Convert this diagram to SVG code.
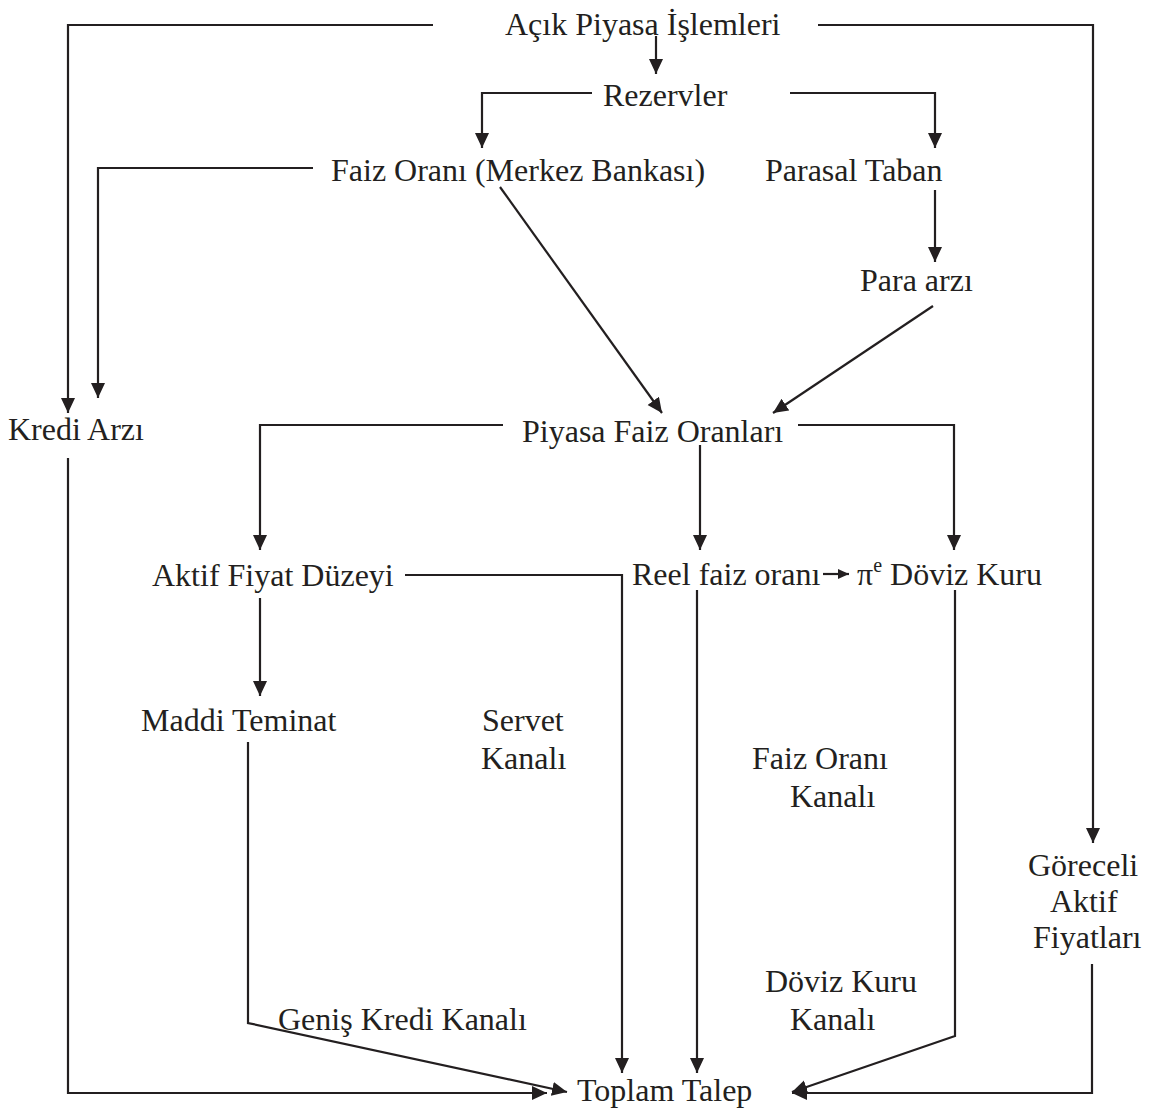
<svg xmlns="http://www.w3.org/2000/svg" width="1156" height="1108" viewBox="0 0 1156 1108">
<style>
text{font-family:"Liberation Serif","Times New Roman",serif;font-size:32px;fill:#231f20}
.c path{fill:none;stroke:#231f20;stroke-width:2.2}
</style>
<defs>
<marker id="a" markerUnits="userSpaceOnUse" markerWidth="16" markerHeight="16" refX="15" refY="7" orient="auto"><path d="M0,0 L15,7 L0,14 z" fill="#231f20"/></marker>
<marker id="s" markerUnits="userSpaceOnUse" markerWidth="12" markerHeight="12" refX="11" refY="5" orient="auto"><path d="M0,0 L11,5 L0,10 z" fill="#231f20"/></marker>
</defs>
<rect width="1156" height="1108" fill="#fff"/>
<g class="c" id="connectors">
<path d="M433,25 H68 V413" marker-end="url(#a)"/>
<path d="M818,25 H1093 V843" marker-end="url(#a)"/>
<path d="M656,36 V74" marker-end="url(#a)"/>
<path d="M592,93 H482 V148" marker-end="url(#a)"/>
<path d="M790,93 H935 V148" marker-end="url(#a)"/>
<path d="M313,168 H98 V398" marker-end="url(#a)"/>
<path d="M500,187 L662,413" marker-end="url(#a)"/>
<path d="M935,190 V262" marker-end="url(#a)"/>
<path d="M933,306 L773,413" marker-end="url(#a)"/>
<path d="M503,425 H260 V550" marker-end="url(#a)"/>
<path d="M798,425 H954 V550" marker-end="url(#a)"/>
<path d="M700,445 V550" marker-end="url(#a)"/>
<path d="M405,575 H622 V1073" marker-end="url(#a)"/>
<path d="M260,598 V696" marker-end="url(#a)"/>
<path d="M697,590 V1073" marker-end="url(#a)"/>
<path d="M955,590 V1036 L792,1092" marker-end="url(#a)"/>
<path d="M248,742 V1023 L567,1092" marker-end="url(#a)"/>
<path d="M68,458 V1093 H547" marker-end="url(#a)"/>
<path d="M1092,964 V1093 H792" marker-end="url(#a)"/>
<path d="M823,574 H849" marker-end="url(#s)"/>
</g>
<g id="n-acik"><text x="505" y="35">Açık Piyasa İşlemleri</text></g>
<g id="n-rezervler"><text x="603" y="106">Rezervler</text></g>
<g id="n-faiz"><text x="331" y="181">Faiz Oranı (Merkez Bankası)</text></g>
<g id="n-parasal"><text x="765" y="181">Parasal Taban</text></g>
<g id="n-para"><text x="860" y="291">Para arzı</text></g>
<g id="n-kredi"><text x="8" y="440">Kredi Arzı</text></g>
<g id="n-piyasa"><text x="522" y="442">Piyasa Faiz Oranları</text></g>
<g id="n-aktif"><text x="152" y="586">Aktif Fiyat Düzeyi</text></g>
<g id="n-reel"><text x="632" y="585">Reel faiz oranı</text></g>
<g id="n-doviz"><text x="857" y="585">π<tspan font-size="20" dy="-13">e</tspan><tspan dy="13"> Döviz Kuru</tspan></text></g>
<g id="n-maddi"><text x="141" y="731">Maddi Teminat</text></g>
<g id="l-servet"><text x="482" y="731">Servet</text><text x="481" y="769">Kanalı</text></g>
<g id="l-faiz"><text x="752" y="769">Faiz Oranı</text><text x="790" y="807">Kanalı</text></g>
<g id="n-goreceli"><text x="1028" y="876">Göreceli</text><text x="1050" y="912">Aktif</text><text x="1033" y="948">Fiyatları</text></g>
<g id="l-doviz"><text x="765" y="992">Döviz Kuru</text><text x="790" y="1030">Kanalı</text></g>
<g id="l-genis"><text x="278" y="1030">Geniş Kredi Kanalı</text></g>
<g id="n-toplam"><text x="577" y="1101">Toplam Talep</text></g>
</svg>
